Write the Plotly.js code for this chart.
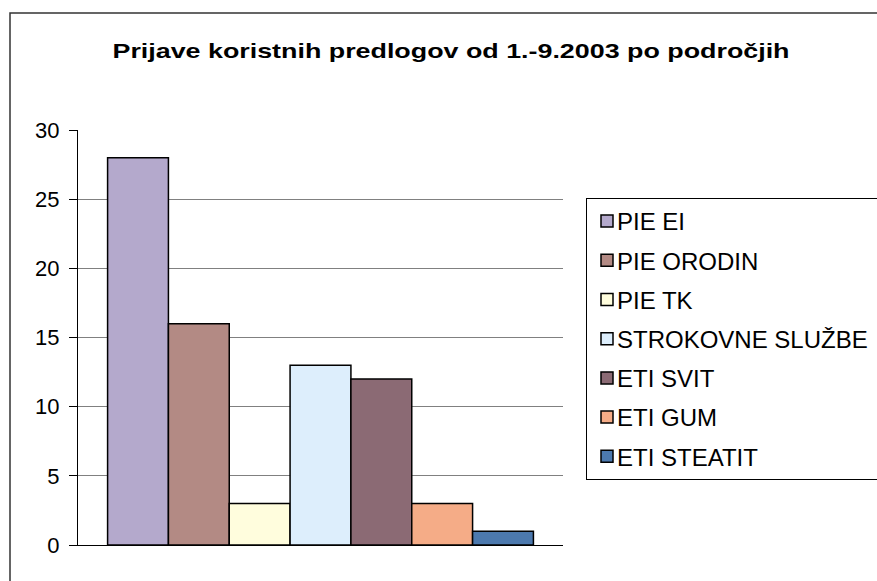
<!DOCTYPE html>
<html>
<head>
<meta charset="utf-8">
<script src="https://cdn.plot.ly/plotly-3.0.1.min.js"></script>
<style>html,body{margin:0;padding:0;background:#fff;}#chart{width:877px;height:581px;}</style>
</head>
<body>
<div id="chart"></div>
<script>
const categories = ["PIE EI", "PIE ORODIN", "PIE TK", "STROKOVNE SLUŽBE", "ETI SVIT", "ETI GUM", "ETI STEATIT"];
const values = [28, 16, 3, 13, 12, 3, 1];
const colors = ["#B4A9CC", "#B38A84", "#FFFDDD", "#DDEEFC", "#8B6A74", "#F5AC87", "#4C79AE"];
const yTicks = [0, 5, 10, 15, 20, 25, 30];
const titleText = "Prijave koristnih predlogov od 1.-9.2003 po področjih";

const traces = categories.map((name, i) => ({
  type: "bar",
  name: name,
  x: [""],
  y: [values[i]],
  legendgroup: "g" + i,
  marker: {color: colors[i], line: {color: "#000", width: 1.5}},
  hoverinfo: "name+y"
}));

const layout = {
  width: 877, height: 581,
  margin: {l: 78, r: 314, t: 130, b: 36, autoexpand: false},
  paper_bgcolor: "#fff", plot_bgcolor: "#fff",
  font: {family: "Liberation Sans, Arial, sans-serif", size: 22, color: "#000"},
  title: {
    text: "<b>" + titleText + "</b>",
    font: {family: "Liberation Sans, Arial, sans-serif", size: 21, color: "#000"},
    x: 451 / 877, xanchor: "center", xref: "container",
    y: 1 - 51 / 581, yanchor: "middle", yref: "container"
  },
  barmode: "group",
  bargap: 0.122,
  bargroupgap: 0,
  xaxis: {
    showticklabels: false, showgrid: false, zeroline: false,
    showline: true, linecolor: "#000", linewidth: 1, ticks: "", fixedrange: true
  },
  yaxis: {
    range: [0, 30], tickvals: yTicks, ticktext: yTicks.map(String),
    showgrid: true, gridcolor: "#808080", gridwidth: 1,
    zeroline: false, showline: true, linecolor: "#000", linewidth: 1,
    ticks: "outside", ticklen: 8, tickcolor: "#000", tickwidth: 1,
    ticklabelstandoff: 5,
    tickfont: {size: 22, color: "#000"}, fixedrange: true
  },
  showlegend: true,
  legend: {
    x: (586 - 78) / 485, xanchor: "left", xref: "paper",
    y: 1 - (198 - 130) / 415, yanchor: "top", yref: "paper",
    bordercolor: "#000", borderwidth: 1, bgcolor: "#fff",
    font: {size: 24, color: "#000"},
    traceorder: "grouped", tracegroupgap: 5,
    itemwidth: 30
  },
  shapes: [{
    type: "rect", xref: "paper", yref: "paper",
    x0: (10 - 78) / 485, x1: 2, y0: -0.5, y1: 1 + (130 - 13) / 415,
    line: {color: "#333", width: 1.5}, fillcolor: "rgba(0,0,0,0)", layer: "below"
  }]
};

Plotly.newPlot("chart", traces, layout, {displayModeBar: false, staticPlot: true}).then(gd => {
  const t = gd.querySelector(".gtitle");
  if (t) {
    t.setAttribute("textLength", "677");
    t.setAttribute("lengthAdjust", "spacingAndGlyphs");
  }
  gd.querySelectorAll(".legendtext").forEach(el => {
    const x = parseFloat(el.getAttribute("x")) || 0;
    el.setAttribute("x", String(x - 10));
  });
});
</script>
</body>
</html>
